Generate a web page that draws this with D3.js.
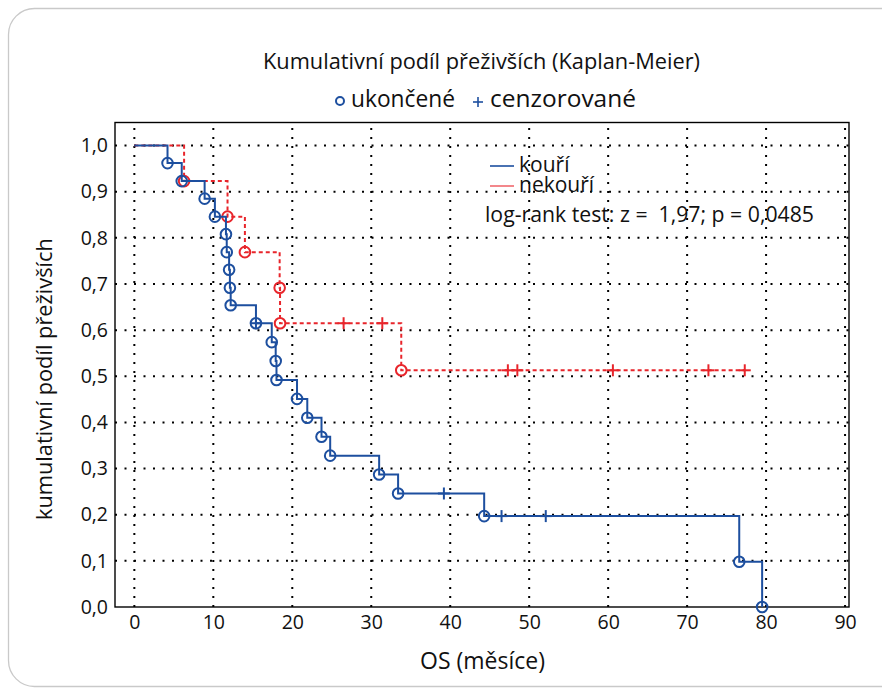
<!DOCTYPE html>
<html><head><meta charset="utf-8">
<script src="https://cdn.jsdelivr.net/npm/d3@7"></script>
<style>body{margin:0;background:#fff;} svg{display:block;} text{font-family:"Open Sans",sans-serif;fill:#111;}</style>
</head><body>
<svg id="c" width="882" height="693"></svg>
<script>
// ---- data ----
const xTicks = [0,10,20,30,40,50,60,70,80,90];
const yTicks = [0,0.1,0.2,0.3,0.4,0.5,0.6,0.7,0.8,0.9,1.0];
// kouří (smokers): event times and survival after each event
const smokeTimes = [4.2,6.0,8.9,10.2,11.6,11.7,12.0,12.1,12.2,15.4,17.4,17.9,18.0,20.6,21.9,23.7,24.8,31.0,33.4,44.3,76.6,79.5];
const smokeSurv  = [0.962,0.923,0.885,0.846,0.808,0.769,0.731,0.692,0.654,0.615,0.574,0.533,0.492,0.451,0.410,0.369,0.328,0.287,0.246,0.197,0.098,0.0];
const smokeCensTimes = [15.4,39.2,46.5,52.1];
const smokeCensSurv  = [0.615,0.246,0.197,0.197];
const smokeEnd = 79.5;
// nekouří (non-smokers)
const nonTimes = [6.3,11.8,14.0,18.4,18.45,33.8];
const nonSurv  = [0.923,0.846,0.769,0.692,0.615,0.513];
const nonCensTimes = [26.5,31.4,47.3,48.5,60.6,72.7,77.3];
const nonCensSurv  = [0.615,0.615,0.513,0.513,0.513,0.513,0.513];
const nonEnd = 77.3;

const BLUE = "#1d4f9f", RED = "#e8252b";
const svg = d3.select("#c");
const loc = d3.formatLocale({decimal:",",thousands:" ",grouping:[3],currency:["",""]});
const fmt1 = loc.format(".1f");

function fit(sel, w){
  const base = 20; sel.style("font-size", base+"px");
  const m = sel.node().getComputedTextLength();
  sel.style("font-size", (base*w/m).toFixed(2)+"px");
  return sel;
}

// outer rounded box
svg.append("rect").attr("x",8.5).attr("y",8.5).attr("width",900).attr("height",678)
  .attr("rx",26).attr("fill","none").attr("stroke","#c9c9c9").attr("stroke-width",1.3);

const L=115, R=849, T=122.5, B=607;
const x = d3.scaleLinear().domain([-2.45,90.5]).range([L,R]);
const y = d3.scaleLinear().domain([0,1.05]).range([B,T]);

// grid
const g = svg.append("g");
g.selectAll("line.vx").data(xTicks).join("line").attr("class","vx")
  .attr("x1",d=>x(d)).attr("x2",d=>x(d)).attr("y1",B).attr("y2",T)
  .attr("stroke","#000").attr("stroke-width",2).attr("stroke-dasharray","2,7");
g.selectAll("line.hy").data(yTicks.filter(d=>d>0)).join("line").attr("class","hy")
  .attr("x1",L).attr("x2",R).attr("y1",d=>y(d)).attr("y2",d=>y(d))
  .attr("stroke","#000").attr("stroke-width",2).attr("stroke-dasharray","2,7.5");

// axes
const xa = svg.append("g").attr("transform",`translate(0,${B})`)
  .call(d3.axisBottom(x).tickValues(xTicks).tickSize(0).tickPadding(8).tickFormat(d3.format("d")));
const ya = svg.append("g").attr("transform",`translate(${L},0)`)
  .call(d3.axisLeft(y).tickValues(yTicks).tickSize(0).tickPadding(7).tickFormat(fmt1));
[xa,ya].forEach(a=>{a.select(".domain").remove(); a.selectAll("text").style("font-size","19.5px").style("font-family","'Open Sans',sans-serif").attr("fill","#111");});

// frame
svg.append("rect").attr("x",L).attr("y",T).attr("width",R-L).attr("height",B-T)
  .attr("fill","none").attr("stroke","#000").attr("stroke-width",1.4);

// curves
function drawCurve(times,surv,end,cT,cS,color,dash){
  const pts=[[0,1]].concat(times.map((t,i)=>[t,surv[i]]));
  if(end>times[times.length-1]) pts.push([end,surv[surv.length-1]]);
  const line=d3.line().x(d=>x(d[0])).y(d=>y(d[1])).curve(d3.curveStepAfter);
  svg.append("path").attr("d",line(pts)).attr("fill","none").attr("stroke",color)
    .attr("stroke-width",2).attr("stroke-dasharray",dash||null);
  svg.append("g").selectAll("circle").data(times.map((t,i)=>[t,surv[i]])).join("circle")
    .attr("cx",d=>x(d[0])).attr("cy",d=>y(d[1])).attr("r",5.3)
    .attr("fill","none").attr("stroke",color).attr("stroke-width",2);
  const cg=svg.append("g").attr("stroke",color).attr("stroke-width",2);
  cT.forEach((t,i)=>{
    const cx=x(t), cy=y(cS[i]);
    cg.append("line").attr("x1",cx-6).attr("x2",cx+6).attr("y1",cy).attr("y2",cy);
    cg.append("line").attr("x1",cx).attr("x2",cx).attr("y1",cy-6).attr("y2",cy+6);
  });
}
drawCurve(nonTimes,nonSurv,nonEnd,nonCensTimes,nonCensSurv,RED,"4,3");
drawCurve(smokeTimes,smokeSurv,smokeEnd,smokeCensTimes,smokeCensSurv,BLUE,null);

// titles
fit(svg.append("text").attr("x",263).attr("y",69).text("Kumulativní podíl přeživších (Kaplan-Meier)"),437);
svg.append("circle").attr("cx",340).attr("cy",101).attr("r",4).attr("fill","none").attr("stroke",BLUE).attr("stroke-width",2);
fit(svg.append("text").attr("x",351).attr("y",107).text("ukončené"),104);
svg.append("line").attr("x1",473).attr("x2",483).attr("y1",102).attr("y2",102).attr("stroke",BLUE).attr("stroke-width",1.6);
svg.append("line").attr("x1",478).attr("x2",478).attr("y1",97).attr("y2",107).attr("stroke",BLUE).attr("stroke-width",1.6);
fit(svg.append("text").attr("x",490).attr("y",107).text("cenzorované"),146);

// legend inside
svg.append("line").attr("x1",490).attr("x2",514).attr("y1",166).attr("y2",166).attr("stroke",BLUE).attr("stroke-width",1.6);
svg.append("text").attr("x",519).attr("y",172).style("font-size","21px").text("kouří");
svg.append("line").attr("x1",490).attr("x2",514).attr("y1",186).attr("y2",186).attr("stroke","#f06a6e").attr("stroke-width",1.6);
svg.append("text").attr("x",519).attr("y",192).style("font-size","21px").text("nekouří");
fit(svg.append("text").attr("x",485).attr("y",222).attr("xml:space","preserve").text("log-rank test: z =  1,97; p = 0,0485"),329);

// axis titles
fit(svg.append("text").attr("x",420).attr("y",669).text("OS (měsíce)"),125);
fit(svg.append("text").attr("transform","translate(52,520) rotate(-90)").text("kumulativní podíl přeživších"),282);
</script>
</body></html>
